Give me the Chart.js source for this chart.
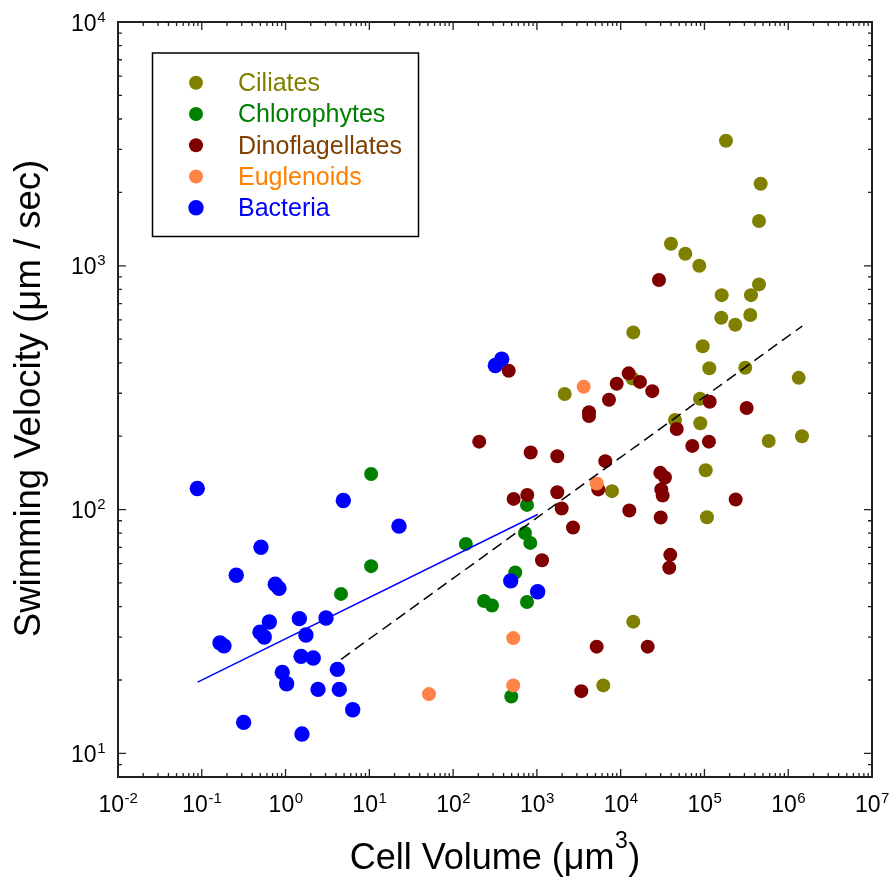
<!DOCTYPE html>
<html><head><meta charset="utf-8">
<script src="https://cdn.jsdelivr.net/npm/chart.js@4/dist/chart.umd.min.js"></script>
<style>html,body{margin:0;padding:0;background:#fff}#wrap{width:893px;height:886px;position:relative}</style>
</head><body><div id="wrap"><canvas id="c"></canvas></div>
<script>
// ---- data ----
const categories = ['Ciliates','Chlorophytes','Dinoflagellates','Euglenoids','Bacteria'];

const ciliatesVolume = [180700, 469000, 448000, 39870, 59060, 86800, 448000, 160600, 359400, 158800, 233400, 352500, 14150, 95300, 114300, 307200, 1334000, 88450, 44500, 89200, 584800, 1459000, 103500, 107200, 2147, 13840, 7877, 14150, 6200];
const ciliatesVelocity = [3258, 2170, 1526, 1231, 1120, 1000, 839, 758, 758, 612, 573, 628, 533, 468, 380, 382, 347, 285, 233, 226, 191, 200, 145, 93, 298, 345, 119, 34.7, 19.0];

const chlorophytesVolume = [10.5, 10.5, 4.59, 142, 762, 721, 834, 552, 234, 291, 762, 495];
const chlorophytesVelocity = [140, 58.6, 45.1, 72.3, 104.5, 80.2, 73.0, 55.2, 42.2, 40.4, 41.8, 17.1];

const dinoflagellatesVolume = [461, 205, 843, 1752, 528, 768, 1752, 1977, 2698, 1151, 4188, 4188, 7254, 8966, 12460, 17010, 23840, 6553, 5408, 12680, 5176, 3388, 28670, 115500, 319000, 46630, 71600, 113200, 29720, 33810, 30550, 31730, 236000, 30040, 39090, 38020, 21020];
const dinoflagellatesVelocity = [371, 190, 171.5, 165.6, 110.6, 114.9, 117.8, 101, 84.4, 62.0, 251, 242, 282, 328, 362, 334, 306, 158, 121, 99.2, 27.4, 18.0, 874, 277, 261, 214, 182.5, 190, 141.5, 135.4, 120.9, 114.2, 110, 92.8, 65.2, 57.7, 27.4];

const euglenoidsVolume = [3620, 5176, 522, 522, 51.5];
const euglenoidsVelocity = [319, 128, 29.7, 19.0, 17.5];

const bacteriaVolume = [0.0884, 4.89, 22.6, 0.509, 0.258, 0.754, 0.835, 0.64, 1.46, 3.04, 0.495, 0.557, 1.75, 0.165, 0.184, 1.53, 2.14, 0.914, 1.03, 4.15, 2.44, 4.38, 6.33, 0.316, 1.57, 380, 319, 487, 1022];
const bacteriaVelocity = [122.1, 109, 85.5, 70.1, 53.8, 49.4, 47.5, 34.6, 35.7, 35.9, 31.4, 30.0, 30.6, 28.4, 27.6, 25.0, 24.6, 21.5, 19.3, 22.1, 18.3, 18.3, 15.1, 13.4, 12.0, 414, 390, 51.0, 46.0];

// fitted lines (end points)
const bacteriaFitVolume = [0.0893, 1021];
const bacteriaFitVelocity = [19.6, 95.5];
const allFitVolume = [4.6, 1470000];
const allFitVelocity = [24.3, 566];

// axes
const xTickExponents = [-2, -1, 0, 1, 2, 3, 4, 5, 6, 7];
const yTickExponents = [1, 2, 3, 4];
const xRange = [0.01, 1e7];
const yRange = [8, 10000];
const xTitle = ['Cell Volume (\u03BCm', '3', ')'];
const yTitle = 'Swimming Velocity (\u03BCm / sec)';

// ---- styles ----
const FONT = '"Liberation Sans", Arial, Helvetica, sans-serif';
const markerColors = ['#808000', '#008000', '#800000', '#FF8246', '#0000FF'];
const legendTextColors = ['#808000', '#008000', '#804000', '#FF8000', '#0000FF'];
const markerRadius = [7, 7, 7, 7, 7.7];

const toPts = (xs, ys) => xs.map((x, i) => ({x: x, y: ys[i]}));
const seriesX = [ciliatesVolume, chlorophytesVolume, dinoflagellatesVolume, euglenoidsVolume, bacteriaVolume];
const seriesY = [ciliatesVelocity, chlorophytesVelocity, dinoflagellatesVelocity, euglenoidsVelocity, bacteriaVelocity];

const datasets = categories.map((name, i) => ({
  label: name,
  data: toPts(seriesX[i], seriesY[i]),
  backgroundColor: markerColors[i],
  borderWidth: 0,
  pointRadius: markerRadius[i],
  pointHoverRadius: markerRadius[i],
  showLine: false,
  order: 10 - i
}));
datasets.push({
  label: 'Bacteria fit', data: toPts(bacteriaFitVolume, bacteriaFitVelocity),
  showLine: true, borderColor: '#0000FF', borderWidth: 1.5, pointRadius: 0, order: 1
});
datasets.push({
  label: 'All fit', data: toPts(allFitVolume, allFitVelocity),
  showLine: true, borderColor: '#000000', borderWidth: 1.5, borderDash: [11, 6], pointRadius: 0, order: 0
});

function sup(ctx, base, exp, x, baseY, align) {
  ctx.font = '23px ' + FONT;
  const wb = ctx.measureText(base).width;
  ctx.font = '15px ' + FONT;
  const we = ctx.measureText(exp).width;
  let x0;
  if (align === 'center') x0 = x - (wb + we) / 2; else x0 = x - (wb + we);
  ctx.textAlign = 'left';
  ctx.textBaseline = 'alphabetic';
  ctx.font = '23px ' + FONT;
  ctx.fillText(base, x0, baseY);
  ctx.font = '15px ' + FONT;
  ctx.fillText(exp, x0 + wb + 0.5, baseY - 9);
}

const framePlugin = {
  id: 'frame',
  afterDraw(chart) {
    const ctx = chart.ctx, a = chart.chartArea, xs = chart.scales.x, ys = chart.scales.y;
    ctx.save();
    ctx.strokeStyle = '#222';
    ctx.fillStyle = '#000';
    // ticks
    ctx.lineWidth = 1.3;
    ctx.beginPath();
    for (let k = -3; k <= 8; k++) {
      for (let m = 1; m <= 9; m++) {
        const v = m * Math.pow(10, k);
        const len = m === 1 ? 8 : 4;
        if (v >= xRange[0] * 0.999 && v <= xRange[1] * 1.001) {
          const px = xs.getPixelForValue(v);
          ctx.moveTo(px, a.bottom); ctx.lineTo(px, a.bottom - len);
          ctx.moveTo(px, a.top); ctx.lineTo(px, a.top + len);
        }
        if (v >= yRange[0] * 0.999 && v <= yRange[1] * 1.001) {
          const py = ys.getPixelForValue(v);
          ctx.moveTo(a.left, py); ctx.lineTo(a.left + len, py);
          ctx.moveTo(a.right, py); ctx.lineTo(a.right - len, py);
        }
      }
    }
    ctx.stroke();
    // frame
    ctx.lineWidth = 2;
    ctx.strokeRect(a.left, a.top, a.right - a.left, a.bottom - a.top);
    // tick labels
    ctx.fillStyle = '#000';
    xTickExponents.forEach(e => {
      sup(ctx, '10', String(e), xs.getPixelForValue(Math.pow(10, e)), a.bottom + 35, 'center');
    });
    yTickExponents.forEach(e => {
      const py = ys.getPixelForValue(Math.pow(10, e));
      sup(ctx, '10', String(e), a.left - 13, py + 8.5, 'right');
    });
    // x title
    ctx.font = '36px ' + FONT;
    const w1 = ctx.measureText(xTitle[0]).width, w3 = ctx.measureText(xTitle[2]).width;
    ctx.font = '23px ' + FONT;
    const w2 = ctx.measureText(xTitle[1]).width;
    const cx = (a.left + a.right) / 2;
    let x0 = cx - (w1 + w2 + w3 + 1) / 2;
    const by = 869;
    ctx.textAlign = 'left'; ctx.textBaseline = 'alphabetic';
    ctx.font = '36px ' + FONT; ctx.fillText(xTitle[0], x0, by);
    ctx.font = '23px ' + FONT; ctx.fillText(xTitle[1], x0 + w1 + 0.5, by - 21);
    ctx.font = '36px ' + FONT; ctx.fillText(xTitle[2], x0 + w1 + w2 + 1, by);
    // y title
    ctx.save();
    ctx.translate(39.5, (a.top + a.bottom) / 2 - 1);
    ctx.rotate(-Math.PI / 2);
    ctx.textAlign = 'center'; ctx.textBaseline = 'alphabetic';
    ctx.font = '36.5px ' + FONT;
    ctx.fillText(yTitle, 0, 0);
    ctx.restore();
    // legend
    const L = {x0: 152.5, y0: 53, x1: 418.5, y1: 236.5, mx: 196, tx: 238, r0: 82.7, dy: 31.25};
    ctx.lineWidth = 1.5; ctx.strokeStyle = '#000';
    ctx.strokeRect(L.x0, L.y0, L.x1 - L.x0, L.y1 - L.y0);
    categories.forEach((name, i) => {
      const y = L.r0 + i * L.dy;
      ctx.beginPath();
      ctx.fillStyle = markerColors[i];
      ctx.arc(L.mx, y, markerRadius[i], 0, Math.PI * 2);
      ctx.fill();
      ctx.fillStyle = legendTextColors[i];
      ctx.font = '25px ' + FONT;
      ctx.textAlign = 'left'; ctx.textBaseline = 'alphabetic';
      ctx.fillText(name, L.tx, y + 8.5);
    });
    ctx.restore();
  }
};

new Chart(document.getElementById('c'), {
  type: 'scatter',
  data: {datasets: datasets},
  options: {
    responsive: true,
    maintainAspectRatio: false,
    animation: false,
    layout: {padding: {left: 118, right: 21, top: 22, bottom: 109}},
    plugins: {legend: {display: false}, tooltip: {enabled: false}},
    scales: {
      x: {type: 'logarithmic', min: xRange[0], max: xRange[1], display: false},
      y: {type: 'logarithmic', min: yRange[0], max: yRange[1], display: false}
    }
  },
  plugins: [framePlugin]
});
</script>
</body></html>
